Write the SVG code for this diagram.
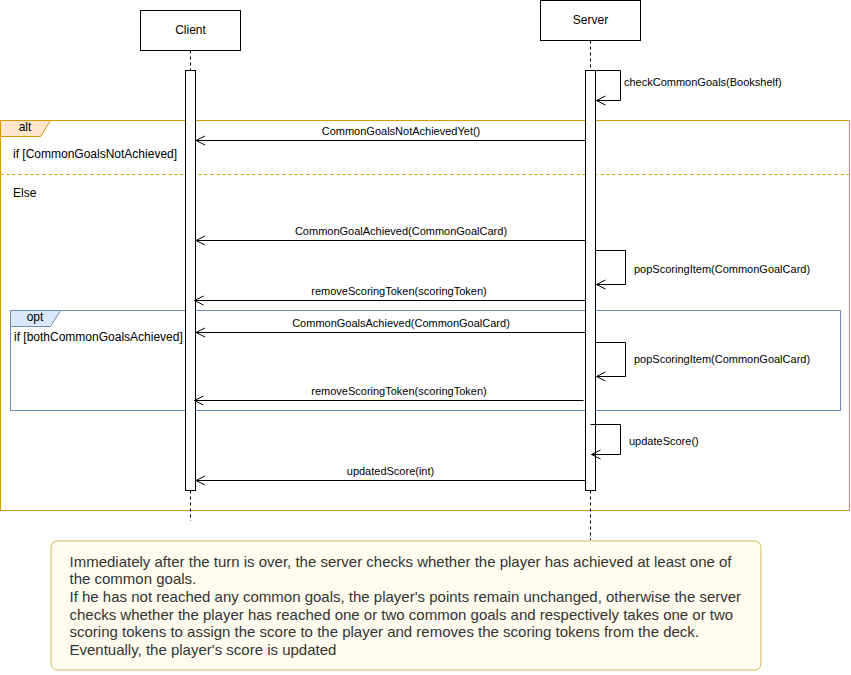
<svg xmlns="http://www.w3.org/2000/svg" width="851" height="675" viewBox="0 0 851 675">
<style>
text{font-family:"Liberation Sans",Arial,sans-serif;fill:#000}
.box{fill:#fff;stroke:#000;stroke-width:1}
.bar{fill:#fff;stroke:#000;stroke-width:1}
.life{stroke:#000;stroke-width:1;stroke-dasharray:3 3;fill:none}
.msg{stroke:#000;stroke-width:1;fill:none;marker-end:url(#open)}
.m{font-size:11px;text-anchor:middle}
.s{font-size:11px}
.lbl{font-size:12px}
.alt{fill:none;stroke:#d79b00;stroke-width:1}
.opt{fill:none;stroke:#6c8ebf;stroke-width:1}
.note{font-size:15px;fill:#333}
</style>
<defs>
<marker id="open" viewBox="-10 -6 12 12" refX="0" refY="0" markerWidth="12" markerHeight="12" markerUnits="userSpaceOnUse" orient="auto">
<path d="M-9,-4.5 L0,0 L-9,4.5" fill="none" stroke="#000" stroke-width="1"/>
</marker>
</defs>
<rect width="851" height="675" fill="#fff"/>

<g id="frame-alt">
<rect class="alt" x="0.5" y="120.5" width="849" height="390"/>
<path d="M0.5,120.5 H50.5 L40.5,136.5 H0.5 Z" fill="#ffe6cc" stroke="#d79b00"/>
<text class="lbl" x="25" y="131" text-anchor="middle">alt</text>
<text class="lbl" x="13" y="158">if [CommonGoalsNotAchieved]</text>
<line x1="0.5" y1="174.5" x2="849.5" y2="174.5" stroke="#d79b00" stroke-dasharray="3 3"/>
<text class="lbl" x="13" y="197">Else</text>
</g>

<g id="frame-opt">
<rect class="opt" x="10.5" y="310.5" width="830" height="100"/>
<path d="M10.5,310.5 H60.5 L50.5,326.5 H10.5 Z" fill="#dae8fc" stroke="#6c8ebf"/>
<text class="lbl" x="35" y="321" text-anchor="middle">opt</text>
<text class="lbl" x="14" y="341">if [bothCommonGoalsAchieved]</text>
</g>

<g id="client">
<rect class="box" x="140.5" y="10.5" width="100" height="40"/>
<text class="lbl" x="190.5" y="34" text-anchor="middle">Client</text>
<line class="life" x1="190.5" y1="50.5" x2="190.5" y2="70"/>
<line class="life" x1="190.5" y1="490.5" x2="190.5" y2="521"/>
<rect class="bar" x="185.5" y="70.5" width="10" height="420"/>
</g>

<g id="server">
<rect class="box" x="540.5" y="0.5" width="100" height="40"/>
<text class="lbl" x="590.5" y="24" text-anchor="middle">Server</text>
<line class="life" x1="590.5" y1="40.5" x2="590.5" y2="70"/>
<line class="life" x1="590.5" y1="490.5" x2="590.5" y2="540"/>
<rect class="bar" x="585.5" y="70.5" width="10" height="420"/>
</g>

<g id="connectors">
<path class="msg" d="M595.5,70.5 H620.5 V100.5 H596.5"/>
<text class="s" x="624" y="86">checkCommonGoals(Bookshelf)</text>

<path class="msg" d="M585.5,140.5 H196"/>
<text class="m" x="401" y="135">CommonGoalsNotAchievedYet()</text>

<path class="msg" d="M585.5,240.5 H196"/>
<text class="m" x="401" y="235">CommonGoalAchieved(CommonGoalCard)</text>

<path class="msg" d="M595.5,250.5 H625.5 V284.5 H596.5"/>
<text class="s" x="634" y="273">popScoringItem(CommonGoalCard)</text>

<path class="msg" d="M585.5,300.5 H194.5"/>
<text class="m" x="399" y="295">removeScoringToken(scoringToken)</text>

<path class="msg" d="M585.5,332.5 H196"/>
<text class="m" x="401" y="327">CommonGoalsAchieved(CommonGoalCard)</text>

<path class="msg" d="M595.5,342.5 H625.5 V376.5 H596.5"/>
<text class="s" x="634" y="363">popScoringItem(CommonGoalCard)</text>

<path class="msg" d="M583.5,400.5 H194.5"/>
<text class="m" x="399" y="395">removeScoringToken(scoringToken)</text>

<path class="msg" d="M590.5,424.5 H620.5 V454.5 H591.5"/>
<text class="s" x="629" y="445">updateScore()</text>

<path class="msg" d="M585.5,480.5 H196"/>
<text class="m" x="390.5" y="475">updatedScore(int)</text>
</g>

<g id="note">
<rect x="51" y="541" width="710" height="129" rx="6" ry="6" fill="#fffcef" stroke="#d6b656"/>
<text class="note" x="69.5" y="566.5">Immediately after the turn is over, the server checks whether the player has achieved at least one of</text>
<text class="note" x="69.5" y="584.2">the common goals.</text>
<text class="note" x="69.5" y="601.9">If he has not reached any common goals, the player's points remain unchanged, otherwise the server</text>
<text class="note" x="69.5" y="619.6">checks whether the player has reached one or two common goals and respectively takes one or two</text>
<text class="note" x="69.5" y="637.3">scoring tokens to assign the score to the player and removes the scoring tokens from the deck.</text>
<text class="note" x="69.5" y="655">Eventually, the player's score is updated</text>
</g>
</svg>
